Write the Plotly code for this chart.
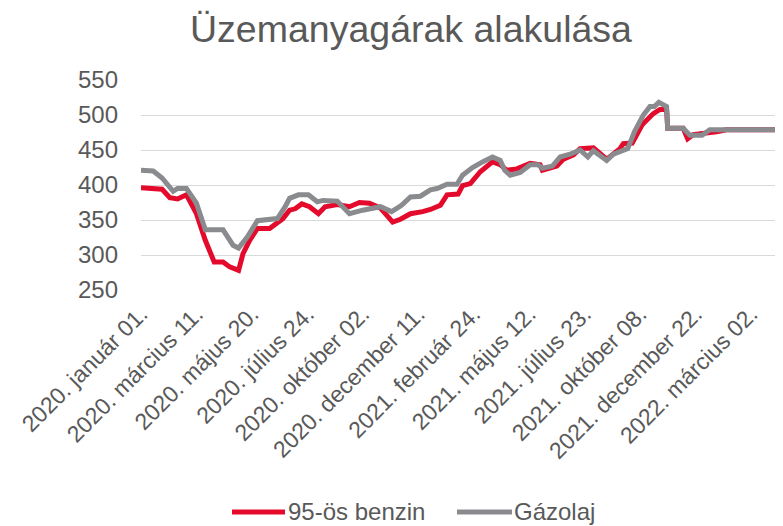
import plotly.graph_objects as go

# Tick labels (every 50th trading day)
tick_idx = [0, 50, 100, 150, 200, 250, 300, 350, 400, 450, 500, 550]
tick_labels = [
    "2020. január 01.", "2020. március 11.", "2020. május 20.", "2020. július 24.",
    "2020. október 02.", "2020. december 11.", "2021. február 24.", "2021. május 12.",
    "2021. július 23.", "2021. október 08.", "2021. december 22.", "2022. március 02.",
]

# 95-ös benzin (trading-day index, Ft/l)
benzin_idx = [0, 11, 19, 26, 33, 41, 50, 58, 66, 74, 80, 88, 92, 98, 105, 116, 123, 128,
              134, 139, 145, 152, 160, 166, 177, 188, 197, 206, 216, 222, 227, 234, 243,
              254, 261, 270, 276, 286, 290, 297, 306, 317, 324, 330, 339, 351, 360, 362,
              375, 381, 390, 396, 399, 408, 420, 432, 435, 443, 452, 462, 468, 474, 475,
              489, 493, 498, 519, 528, 579]
benzin_val = [396, 394, 394, 382, 380, 386, 359, 321, 290, 290, 283, 278, 302, 321, 338,
              338, 345, 352, 364, 366, 373, 369, 359, 369, 372, 369, 375, 374, 367, 355,
              347, 351, 359, 362, 365, 371, 386, 387, 399, 402, 419, 433, 429, 421, 423,
              431, 429, 421, 427, 437, 443, 452, 452, 453, 437, 452, 459, 460, 486, 502,
              508, 508, 481, 481, 466, 472, 476, 479, 479]

# Gázolaj (trading-day index, Ft/l)
gazolaj_idx = [0, 11, 19, 29, 33, 41, 50, 58, 74, 83, 88, 96, 105, 116, 123, 130, 134,
               142, 151, 159, 164, 177, 188, 200, 216, 226, 235, 243, 252, 261, 267, 276,
               285, 290, 299, 308, 317, 324, 328, 333, 342, 351, 358, 362, 371, 378, 387,
               396, 403, 408, 414, 420, 426, 435, 439, 445, 453, 459, 463, 467, 474, 475,
               489, 495, 506, 513, 528, 579]
gazolaj_val = [421, 420, 410, 391, 395, 395, 374, 336, 336, 314, 310, 326, 349, 350, 352,
               369, 381, 386, 386, 376, 378, 377, 359, 364, 369, 362, 371, 383, 384, 393,
               395, 401, 401, 414, 425, 433, 440, 435, 421, 414, 418, 429, 429, 424, 427,
               440, 444, 450, 440, 449, 443, 435, 444, 450, 452, 476, 500, 512, 512, 518,
               512, 481, 481, 471, 471, 479, 479, 479]

series_names = ["95-ös benzin", "Gázolaj"]

RED = "#E30A2C"
GRAY = "#898B8E"
TXT = "#595959"
FONT = "Liberation Sans, Arial, sans-serif"

# page body has an 8px margin, so the figure is 8px smaller than the window
W, H = 775, 518
ML, MT, MB = 133, 72, 236
PW, PH = W - ML, H - MT - MB


def px_x(fx):
    return (fx - ML) / PW


def px_y(fy):
    return 1 - (fy - MT) / PH


fig = go.Figure()
fig.add_trace(go.Scatter(x=benzin_idx, y=benzin_val, mode="lines", name=series_names[0],
                         line=dict(color=RED, width=5)))
fig.add_trace(go.Scatter(x=gazolaj_idx, y=gazolaj_val, mode="lines", name=series_names[1],
                         line=dict(color=GRAY, width=5)))

# legend drawn as long line samples with text, like the original
leg_y = px_y(504)
for (lx0, lx1, tx), name, col in zip([(224, 277, 278), (449, 504, 504)], series_names, [RED, GRAY]):
    fig.add_shape(type="line", xref="paper", yref="paper", x0=px_x(lx0), x1=px_x(lx1),
                  y0=leg_y, y1=leg_y, line=dict(color=col, width=5))
    fig.add_annotation(text=name, xref="paper", yref="paper", x=px_x(tx), y=leg_y,
                       xanchor="left", yanchor="middle", showarrow=False,
                       font=dict(size=24, color=TXT, family=FONT))

fig.update_layout(
    width=W, height=H,
    margin=dict(l=ML, r=0, t=MT, b=MB, autoexpand=False),
    paper_bgcolor="white", plot_bgcolor="white",
    font=dict(family=FONT, color=TXT),
    title=dict(text="Üzemanyagárak alakulása", font=dict(size=37.5, color=TXT, family=FONT),
               x=403 / W, xref="container", xanchor="center",
               y=1 - 21 / H, yref="container", yanchor="middle"),
    showlegend=False,
)
fig.update_xaxes(range=[0, 579], tickmode="array", tickvals=tick_idx, ticktext=tick_labels,
                 tickangle=-45, showgrid=False, zeroline=False, showline=False,
                 tickfont=dict(size=23, color=TXT, family=FONT), ticklabelstandoff=5)
fig.update_yaxes(range=[250, 550], dtick=50, tick0=250, showgrid=True, gridcolor="#D9D9D9",
                 gridwidth=1.3, zeroline=False, showline=False,
                 tickfont=dict(size=24, color=TXT, family=FONT), ticklabelstandoff=22)

fig.write_html("out.html")
